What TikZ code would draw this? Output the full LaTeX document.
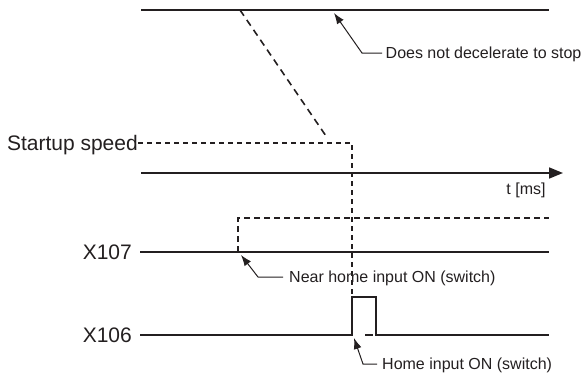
\documentclass[tikz,border=0pt]{standalone}
\usepackage{fontspec}
\setmainfont{Liberation Sans}
\usepackage{xcolor}
\usepackage{tikz}
\usetikzlibrary{arrows.meta,positioning,calc}
\definecolor{ink}{RGB}{35,31,32}

\begin{document}
\begin{tikzpicture}[x=1pt,y=-1pt,
    sig/.style={draw=ink, line width=2.1pt},
    dsig/.style={draw=ink, line width=1.6pt, dash pattern=on 6pt off 4pt},
    callout/.style={draw=ink, line width=1pt, {Latex[length=11pt,width=8pt]}-},
    lbl/.style={font=\fontsize{21}{24}\selectfont, text=ink, inner sep=0pt, text height=15pt, text depth=0pt},
    note/.style={font=\fontsize{16}{18}\selectfont, text=ink, inner ysep=0pt, inner xsep=3.5pt, text height=11pt, text depth=0pt}
]
\useasboundingbox (0,0) rectangle (582,375);

% speed profile
\coordinate (v0) at (141,10);
\coordinate (v1) at (549,10);
\coordinate (d0) at (240,10);
\coordinate (d1) at (326,136);
\draw[sig] (v0) -- (v1);
\draw[dsig, dash pattern=on 7pt off 5pt] (d0) -- (d1);

\coordinate (s0) at (138,143);
\node[lbl, left=0pt of s0] (startup) {Startup speed};
\coordinate (s1) at (352,143);
\coordinate (s2) at (352,297);
\draw[dsig, dash pattern=on 5pt off 4pt] (startup.east) -- (s1) -- (s2);

% time axis
\coordinate (t0) at (141,173);
\coordinate (t1) at (563,173);
\draw[sig, line width=1.7pt, -{Triangle[length=14pt,width=11pt]}] (t0) -- (t1);
\node[note] (tms) at (526,189) {t [ms]};

% X107 near home
\coordinate (x7a) at (140,252);
\coordinate (x7b) at (549,252);
\coordinate (x7c) at (238,252);
\coordinate (x7d) at (238,218);
\coordinate (x7e) at (549,218);
\node[lbl, left=8pt of x7a] (x107) {X107};
\draw[sig] (x7a) -- (x7b);
\draw[dsig] (x7c) -- (x7d) -- (x7e);

% X106 home
\coordinate (x6a) at (140,335);
\coordinate (x6b) at (352,335);
\coordinate (x6c) at (376,335);
\coordinate (x6d) at (549,335);
\node[lbl, left=8pt of x6a] (x106) {X106};
\draw[sig] (x6a) -- (x6b) -- (352,297) -- (376,297) -- (x6c) -- (x6d);
\draw[dsig, dash pattern=on 0pt off 13pt on 8pt off 10pt] (x6b) -- (x6c);

% callouts
\coordinate (a1) at (334,13);
\coordinate (k1) at (362,53);
\node[note, anchor=west] (stop) at (382,53) {Does not decelerate to stop};
\draw[callout] (a1) -- (k1) -- (stop.west);

\coordinate (a2) at (241,255);
\coordinate (k2) at (258,277);
\node[note, anchor=west, inner xsep=6pt] (near) at (283,277) {Near home input ON (switch)};
\draw[callout] (a2) -- (k2) -- (near.west);

\coordinate (a3) at (354,338);
\coordinate (k3) at (363,364);
\node[note, anchor=west, inner xsep=5pt] (home) at (377,364) {Home input ON (switch)};
\draw[callout] (a3) -- (k3) -- (home.west);
\end{tikzpicture}
\end{document}
